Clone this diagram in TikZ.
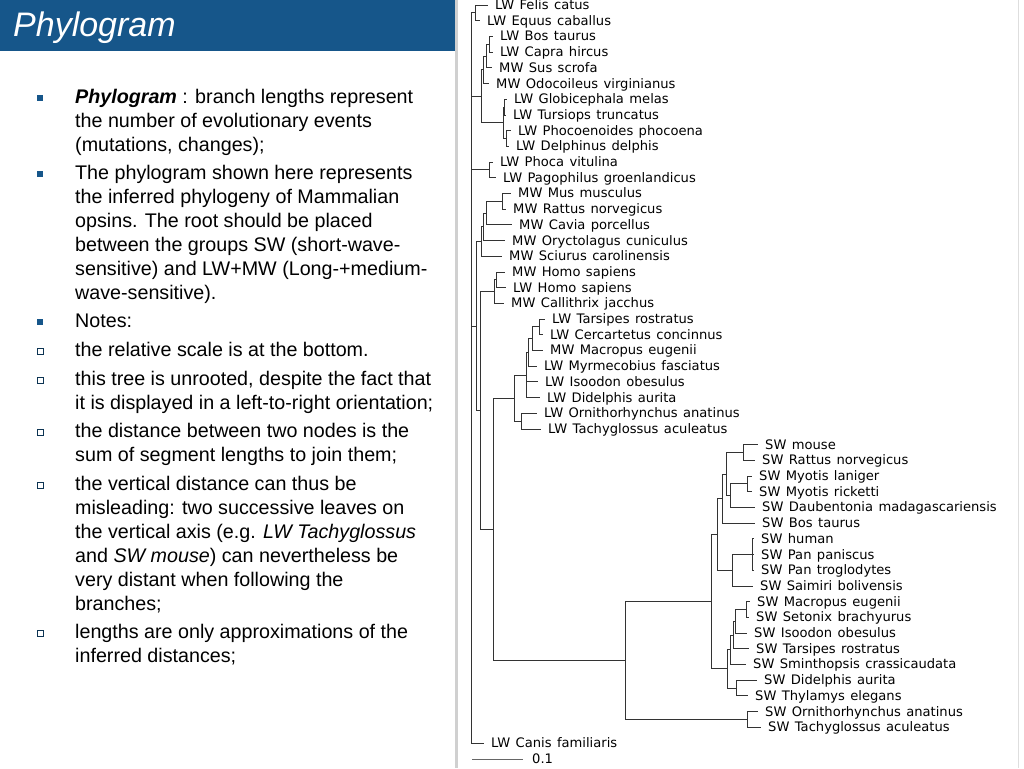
\documentclass[tikz,border=0pt]{standalone}
\usepackage{fontspec}
\setmainfont{Liberation Sans}
\newfontfamily\treefont[WordSpace=1.3]{DejaVu Sans}
\usetikzlibrary{shadows}
\definecolor{slideblue}{RGB}{22,86,138}
\definecolor{sepgray}{RGB}{208,208,208}
\tikzset{
  leaf/.style={anchor=west, inner xsep=7pt, inner ysep=0pt, text height=9pt, text depth=0pt, font=\treefont\fontsize{13.1}{15}\selectfont},
  fork/.style={inner sep=0pt, minimum size=0pt},
  branch/.style={draw=black!80, line width=0.8pt},
  para/.style={anchor=north west, align=left, inner sep=0pt, font=\fontsize{19.7}{24}\selectfont},
  fullbul/.style={fill=slideblue, minimum size=6pt, inner sep=0pt},
  openbul/.style={draw=slideblue!60!black, fill=white, minimum size=6pt, inner sep=0pt, line width=0.6pt, drop shadow={shadow xshift=1pt, shadow yshift=-1pt, opacity=0.7}}
}

\begin{document}
\begin{tikzpicture}[x=1pt, y=-1pt]
  \useasboundingbox (0,0) rectangle (1024,768);
  % slide frame
  \fill[slideblue] (0,0) rectangle (455,51);
  \fill[sepgray] (455,0) rectangle (458,768); \draw[sepgray!70, line width=1pt] (1018,0) -- (1018,768);
  \node[anchor=base west, inner sep=0pt, text=white, font=\fontsize{34}{38}\selectfont\itshape] (title) at (13,37) {Phylogram};

  % bullets and text
  \foreach \b/\c in {b1/98, b2/174, b3/322} \node[fullbul] (\b) at (40,\c) {};
  \foreach \b/\c in {b4/351, b5/380, b6/432, b7/485, b8/633} \node[openbul] (\b) at (40,\c) {};
  \node[para] (p1) at (75,89) {\textbf{\textit{Phylogram}} : branch lengths represent\\the number of evolutionary events\\(mutations, changes);};
  \node[para] (p2) at (75,165) {The phylogram shown here represents\\the inferred phylogeny of Mammalian\\opsins. The root should be placed\\between the groups SW (short-wave-\\sensitive) and LW+MW (Long-+medium-\\wave-sensitive).};
  \node[para] (p3) at (75,314) {Notes:};
  \node[para] (p4) at (75,342) {the relative scale is at the bottom.};
  \node[para] (p5) at (75,371) {this tree is unrooted, despite the fact that\\it is displayed in a left-to-right orientation;};
  \node[para] (p6) at (75,423) {the distance between two nodes is the\\sum of segment lengths to join them;};
  \node[para] (p7) at (75,476) {the vertical distance can thus be\\misleading: two successive leaves on\\the vertical axis (e.g. \textit{LW Tachyglossus}\\and \textit{SW mouse}) can nevertheless be\\very distant when following the\\branches;};
  \node[para] (p8) at (75,624) {lengths are only approximations of the\\inferred distances;};

  % leaves
  \foreach \nm/\xx/\ii/\txt in {felis/488/0/LW Felis catus, equus/480/1/LW Equus caballus, bos/493/2/LW Bos taurus, capra/493/3/LW Capra hircus, sus/492/4/MW Sus scrofa, odo/489/5/MW Odocoileus virginianus,
      globi/507/6/LW Globicephala melas, tursi/506/7/LW Tursiops truncatus, phoco/511/8/LW Phocoenoides phocoena, delph/509/9/LW Delphinus delphis, phoca/493/10/LW Phoca vitulina, pago/496/11/LW Pagophilus groenlandicus,
      mus/511/12/MW Mus musculus, rattmw/506/13/MW Rattus norvegicus, cavia/512/14/MW Cavia porcellus, oryct/505/15/MW Oryctolagus cuniculus, sciur/502/16/MW Sciurus carolinensis,
      homomw/505/17/MW Homo sapiens, homolw/506/18/LW Homo sapiens, calli/504/19/MW Callithrix jacchus,
      tarslw/545/20/LW Tarsipes rostratus, cerca/543/21/LW Cercartetus concinnus, macrmw/543/22/MW Macropus eugenii, myrme/537/23/LW Myrmecobius fasciatus, isoolw/538/24/LW Isoodon obesulus, didelw/540/25/LW Didelphis aurita,
      ornilw/537/26/LW Ornithorhynchus anatinus, tachlw/541/27/LW Tachyglossus aculeatus,
      mouse/758/28/SW mouse, rattsw/755/29/SW Rattus norvegicus, myola/752/30/SW Myotis laniger, myori/752/31/SW Myotis ricketti, daub/755/32/SW Daubentonia madagascariensis, bossw/755/33/SW Bos taurus,
      human/754/34/SW human, panpa/754/35/SW Pan paniscus, pantr/754/36/SW Pan troglodytes, saimi/753/37/SW Saimiri bolivensis,
      macrsw/750/38/SW Macropus eugenii, seton/749/39/SW Setonix brachyurus, isoosw/747/40/SW Isoodon obesulus, tarssw/749/41/SW Tarsipes rostratus, sminth/746/42/SW Sminthopsis crassicaudata,
      didesw/757/43/SW Didelphis aurita, thyla/748/44/SW Thylamys elegans, ornisw/758/45/SW Ornithorhynchus anatinus, tachsw/761/46/SW Tachyglossus aculeatus, canis/484/47/LW Canis familiaris}
    \node[leaf] (\nm) at (\xx,{5+15.7*\ii}) {\txt};

  % forks
  \foreach \nm/\xx/\kk in {FE/476/0.5, BC/490/2.5, BCS/487/3.25, Cet/484/4.125, GT/505/6.5, PD/507/8.5, Dol/504/7.5, CD/482/5.8125, Pin/490/10.5,
      MR/503/12.5, MRC/487/13.25, Ro/484/14.125, Gl/482/15.0625, HH/497/17.5, Pr/495/18.25,
      TC/540/20.5, TCM/533/21.25, My/529/22.125, Mar/527/23.5625, Mono/522/26.5, LWm/515/25.03,
      MoR/744/28.5, Myo/748/30.5, MyD/731/31.25, MMD/727/29.875, Laur/723/31.4375, HP/753/35, Pri/733/36, Bor/718/33.72,
      MSe/747/38.5, Aa/736/39.25, Ab/734/40.125, Ac/731/41.06, DTh/737/43.5, MarSW/728/42.28, Ther/712/38, MonoSW/748/45.5,
      SW/626/41.75, LWSW/494/33.39, Pb/481/25.82, Pa/477/20.44, Root/472/23.75}
    \node[fork] (\nm) at (\xx,{5+15.7*\kk}) {};

  % branches
  \foreach \p/\c in {FE/felis, FE/equus, BC/bos, BC/capra, BCS/BC, BCS/sus, Cet/BCS, Cet/odo, GT/globi, GT/tursi, PD/phoco, PD/delph, Dol/GT, Dol/PD, CD/Cet, CD/Dol, Pin/phoca, Pin/pago,
      MR/mus, MR/rattmw, MRC/MR, MRC/cavia, Ro/MRC, Ro/oryct, Gl/Ro, Gl/sciur, HH/homomw, HH/homolw, Pr/HH, Pr/calli,
      TC/tarslw, TC/cerca, TCM/TC, TCM/macrmw, My/TCM, My/myrme, Mar/My, Mar/isoolw, Mar/didelw, Mono/ornilw, Mono/tachlw, LWm/Mar, LWm/Mono,
      MoR/mouse, MoR/rattsw, Myo/myola, Myo/myori, MyD/Myo, MyD/daub, MMD/MoR, MMD/MyD, Laur/MMD, Laur/bossw, HP/human, HP/panpa, HP/pantr, Pri/HP, Pri/saimi, Bor/Laur, Bor/Pri,
      MSe/macrsw, MSe/seton, Aa/MSe, Aa/isoosw, Ab/Aa, Ab/tarssw, Ac/Ab, Ac/sminth, DTh/didesw, DTh/thyla, MarSW/Ac, MarSW/DTh, Ther/Bor, Ther/MarSW, MonoSW/ornisw, MonoSW/tachsw,
      SW/Ther, SW/MonoSW, LWSW/LWm, LWSW/SW, Pb/Pr, Pb/LWSW, Pa/Gl, Pa/Pb, Root/FE, Root/CD, Root/Pin, Root/Pa, Root/canis}
    \draw[branch] (\p.west) |- (\c.west);

  % scale bar
  \coordinate (sb) at (472,759);
  \node[leaf, inner xsep=9pt] (scale) at (523,759) {0.1};
  \draw[black!60, line width=0.8pt] (sb) -- (scale.west);
\end{tikzpicture}
\end{document}
